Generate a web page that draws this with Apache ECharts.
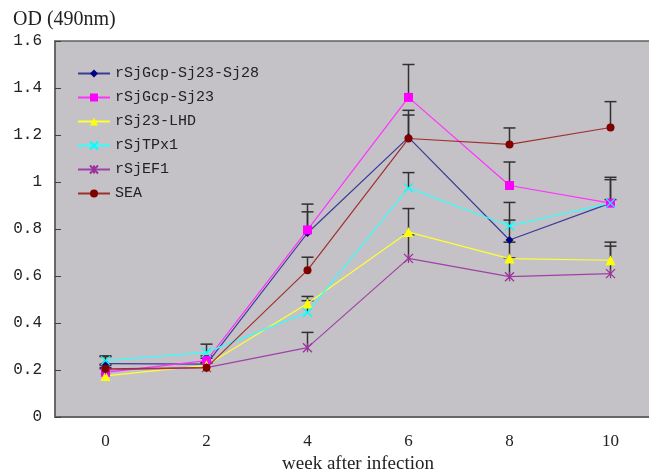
<!DOCTYPE html>
<html>
<head>
<meta charset="utf-8">
<script src="https://cdn.jsdelivr.net/npm/echarts@6/dist/echarts.min.js"></script>
<style>
  html, body { margin: 0; padding: 0; background: #fff; }
  #main { width: 649px; height: 474px; }
</style>
</head>
<body>
<div id="main"></div>
<script>
// week after infection
var weeks = ['0', '2', '4', '6', '8', '10'];
var seriesNames = ['rSjGcp-Sj23-Sj28', 'rSjGcp-Sj23', 'rSj23-LHD', 'rSjTPx1', 'rSjEF1', 'SEA'];

// OD values
var gcpSj23Sj28 = [0.227, 0.225, 0.783, 1.19, 0.753, 0.91];
var gcpSj23     = [0.19, 0.24, 0.796, 1.36, 0.985, 0.91];
var sj23LHD     = [0.175, 0.22, 0.483, 0.787, 0.674, 0.667];
var sjTPx1      = [0.24, 0.275, 0.445, 0.975, 0.813, 0.91];
var sjEF1       = [0.2, 0.21, 0.295, 0.675, 0.597, 0.61];
var sea         = [0.205, 0.21, 0.625, 1.185, 1.16, 1.232];

// upper error (SD)
var errGcpSj23Sj28 = [0.03, 0.01, 0.09, 0.095, 0.085, 0.10];
var errGcpSj23     = [0.02, 0.02, 0.11, 0.14, 0.10, 0.11];
var errSj23LHD     = [0.03, 0.03, 0.03, 0.10, 0.07, 0.077];
var errSjTPx1      = [0.02, 0.035, 0.05, 0.065, 0.10, 0.015];
var errSjEF1       = [0.02, 0.02, 0.065, 0.10, 0.08, 0.117];
var errSea         = [0.02, 0.02, 0.055, 0.12, 0.07, 0.11];

var yTicks = [0, 0.2, 0.4, 0.6, 0.8, 1, 1.2, 1.4, 1.6];

var allValues = [gcpSj23Sj28, gcpSj23, sj23LHD, sjTPx1, sjEF1, sea];
var allErrs = [errGcpSj23Sj28, errGcpSj23, errSj23LHD, errSjTPx1, errSjEF1, errSea];
var colors = ['#000080', '#ff00ff', '#ffff00', '#00ffff', '#993399', '#800000'];
var lineColors = ['#3a3a98', '#ff33ff', '#ffff33', '#33ffff', '#a040a8', '#a03030'];
var symbols = [
    'diamond', 'rect', 'triangle',
    'path://M0,0L10,10M0,10L10,0',
    'path://M0,0L10,10M0,10L10,0M5,0L5,10',
    'circle'
];
var symbolSizes = [8, 9, 10, 9, 9, 8];

var errData = [];
for (var s = 0; s < allValues.length; s++) {
    for (var i = 0; i < weeks.length; i++) {
        errData.push([i, allValues[s][i], allValues[s][i] + allErrs[s][i]]);
    }
}

var chart = echarts.init(document.getElementById('main'));

var series = [];
// error bars first, lines drawn over them
series.push({
    type: 'custom',
    name: 'err',
    z: 1,
    silent: true,
    data: errData,
    renderItem: function (params, api) {
        var lo = api.coord([api.value(0), api.value(1)]);
        var hi = api.coord([api.value(0), api.value(2)]);
        var hw = 6;
        var st = { stroke: '#303030', lineWidth: 1.5 };
        return {
            type: 'group',
            children: [
                { type: 'line', shape: { x1: lo[0], y1: lo[1], x2: hi[0], y2: hi[1] }, style: st },
                { type: 'line', shape: { x1: hi[0] - hw, y1: hi[1], x2: hi[0] + hw, y2: hi[1] }, style: st }
            ]
        };
    },
    encode: { x: 0, y: [1, 2] }
});

for (var k = 0; k < seriesNames.length; k++) {
    series.push({
        name: seriesNames[k],
        type: 'line',
        z: 3,
        data: allValues[k],
        symbol: symbols[k],
        symbolSize: symbolSizes[k],
        showAllSymbol: true,
        lineStyle: { color: lineColors[k], width: 1.2 },
        itemStyle: {
            color: colors[k],
            borderColor: colors[k],
            borderWidth: (k === 3 || k === 4) ? 1.3 : 0
        },
        animation: false
    });
}

var option = {
    animation: false,
    backgroundColor: '#ffffff',
    title: {
        text: 'OD (490nm)',
        left: 8,
        top: 5,
        textStyle: {
            fontFamily: 'Liberation Serif',
            fontSize: 20,
            fontWeight: 'normal',
            color: '#222'
        }
    },
    legend: {
        data: seriesNames,
        orient: 'vertical',
        left: 77,
        top: 66,
        padding: 0,
        itemWidth: 32,
        itemHeight: 10,
        itemGap: 9,
        textStyle: {
            fontFamily: 'Liberation Mono',
            fontSize: 15,
            color: '#222'
        }
    },
    grid: {
        show: true,
        left: 55,
        top: 41,
        width: 606,
        bottom: 57,
        outerBoundsMode: 'none',
        containLabel: false,
        backgroundColor: '#c4c2c6',
        borderColor: '#606060',
        borderWidth: 1.5
    },
    xAxis: {
        type: 'category',
        data: weeks,
        boundaryGap: true,
        name: 'week after infection',
        nameLocation: 'middle',
        nameGap: 37,
        nameTextStyle: {
            fontFamily: 'Liberation Serif',
            fontSize: 19,
            color: '#222'
        },
        axisLine: { lineStyle: { color: '#606060', width: 1.5 } },
        axisTick: { inside: true, length: 6, lineStyle: { color: '#404040' } },
        axisLabel: {
            margin: 16,
            fontFamily: 'Liberation Serif',
            fontSize: 17,
            color: '#222'
        },
        splitLine: { show: false }
    },
    yAxis: {
        type: 'value',
        min: yTicks[0],
        max: yTicks[yTicks.length - 1],
        interval: 0.2,
        axisLine: { show: true, lineStyle: { color: '#606060', width: 1.5 } },
        axisTick: { show: true, inside: true, length: 6, lineStyle: { color: '#404040' } },
        axisLabel: {
            margin: 13,
            fontFamily: 'Liberation Mono',
            fontSize: 16,
            color: '#222'
        },
        splitLine: { show: false }
    },
    series: series
};

chart.setOption(option);
</script>
</body>
</html>
